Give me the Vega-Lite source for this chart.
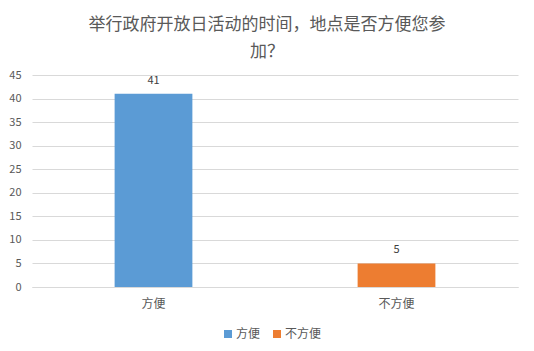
{
  "$schema": "https://vega.github.io/schema/vega-lite/v6.json",
  "autosize": {"type": "none"},
  "width": 486,
  "height": 212,
  "padding": {"left": 32, "top": 75, "right": 16, "bottom": 64},
  "background": "white",
  "title": {
    "text": ["举行政府开放日活动的时间，地点是否方便您参", "加？"],
    "font": "Noto Sans CJK SC",
    "fontSize": 17,
    "fontWeight": "normal",
    "color": "#595959",
    "anchor": "middle",
    "dx": -8,
    "offset": 8,
    "lineHeight": 27
  },
  "data": {
    "values": [
      {"option": "方便", "count": 41},
      {"option": "不方便", "count": 5}
    ]
  },
  "encoding": {
    "x": {
      "field": "option",
      "type": "nominal",
      "sort": ["方便", "不方便"],
      "scale": {"paddingInner": 0.68, "paddingOuter": 0.34},
      "axis": {
        "title": null,
        "labelAngle": 0,
        "labelFont": "Noto Sans CJK SC",
        "labelFontSize": 12,
        "labelColor": "#595959",
        "labelPadding": 11,
        "domainColor": "#d9d9d9",
        "ticks": false
      }
    },
    "y": {
      "field": "count",
      "type": "quantitative",
      "scale": {"domain": [0, 45]},
      "axis": {
        "title": null,
        "values": [0, 5, 10, 15, 20, 25, 30, 35, 40, 45],
        "labelFont": "Noto Sans CJK SC",
        "labelFontSize": 11,
        "labelColor": "#595959",
        "labelPadding": 11,
        "gridColor": "#d9d9d9",
        "domain": false,
        "ticks": false
      }
    }
  },
  "layer": [
    {
      "mark": {"type": "bar"},
      "encoding": {
        "color": {
          "field": "option",
          "type": "nominal",
          "sort": ["方便", "不方便"],
          "scale": {"domain": ["方便", "不方便"], "range": ["#5B9BD5", "#ED7D31"]},
          "legend": {
            "title": null,
            "orient": "none",
            "legendX": 190,
            "legendY": 253,
            "direction": "horizontal",
            "symbolType": "square",
            "symbolSize": 64,
            "symbolStrokeWidth": 0,
            "labelFont": "Noto Sans CJK SC",
            "labelFontSize": 12,
            "labelColor": "#595959",
            "labelOffset": 2,
            "columnPadding": 10
          }
        }
      }
    },
    {
      "mark": {"type": "text", "dy": -13, "baseline": "middle", "font": "Noto Sans CJK SC", "fontSize": 11, "color": "#404040"},
      "encoding": {"text": {"field": "count", "type": "quantitative"}}
    }
  ],
  "config": {"view": {"stroke": null}}
}
